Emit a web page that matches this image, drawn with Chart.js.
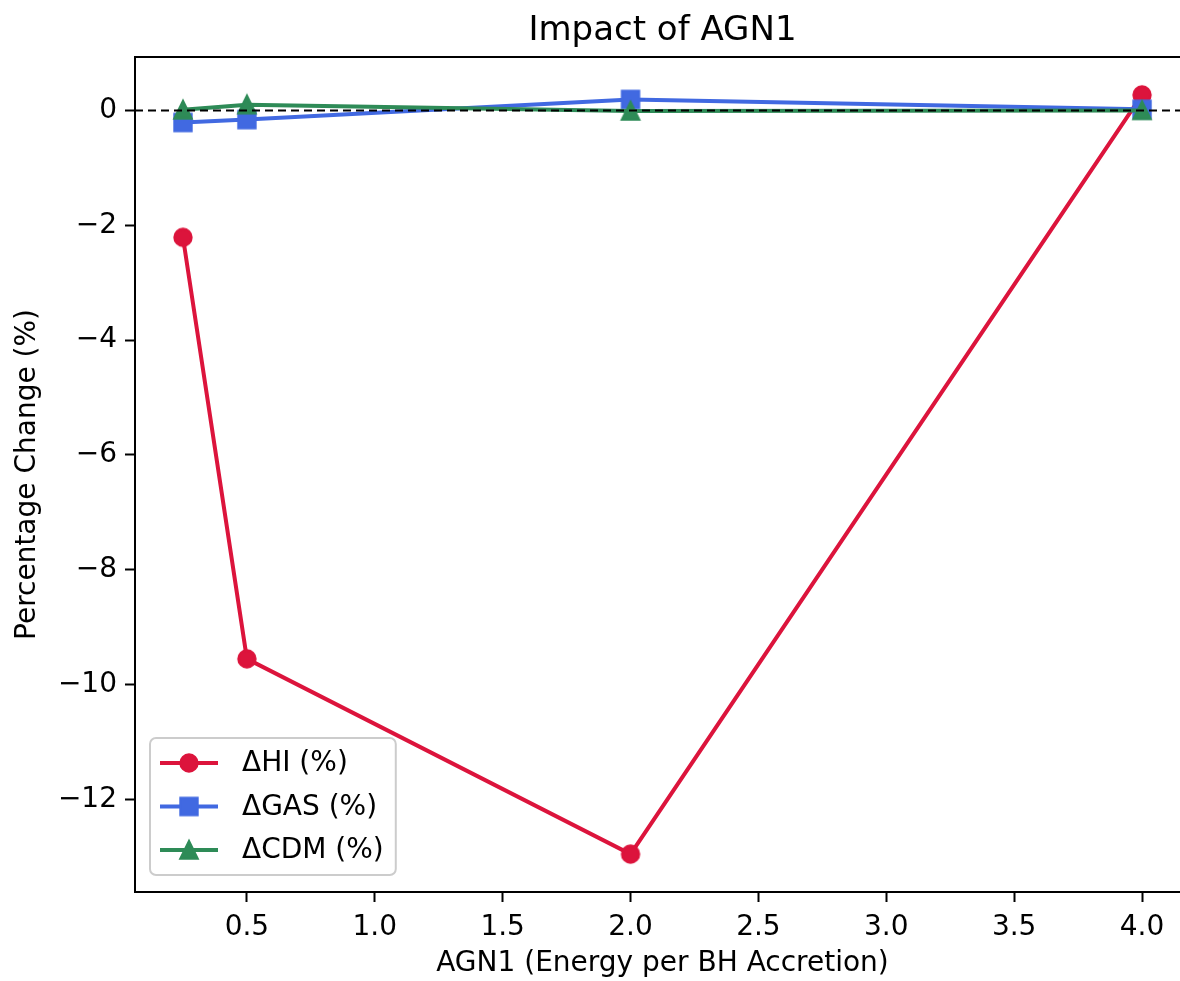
<!DOCTYPE html>
<html>
<head>
<meta charset="utf-8">
<title>Impact of AGN1</title>
<script src="https://cdn.jsdelivr.net/npm/chart.js@4.4.1/dist/chart.umd.min.js"></script>
<style>
  html, body { margin: 0; padding: 0; background: #fff; overflow: hidden; }
  #wrap { position: relative; width: 1240px; height: 981px; }
</style>
</head>
<body>
<div id="wrap"><canvas id="agnChart"></canvas></div>
<script>
// Valores
const agnValues = [0.25, 0.5, 2.0, 4.0];
const deltaHI = [-2.21, -9.55, -12.95, 0.27];
const deltaGAS = [-0.21, -0.16, 0.19, 0.02];
const deltaCDM = [0.01, 0.10, -0.01, 0.0];

const seriesNames = ['ΔHI (%)', 'ΔGAS (%)', 'ΔCDM (%)'];
const xTicks = [0.5, 1.0, 1.5, 2.0, 2.5, 3.0, 3.5, 4.0];
const yTicks = [-12, -10, -8, -6, -4, -2, 0];
const xLimits = [0.0625, 4.1875];
const yLimits = [-13.61, 0.93];

const FONT = "'DejaVu Sans', 'Liberation Sans', sans-serif";
Chart.defaults.font.family = FONT;
Chart.defaults.color = '#000';

// marcadores estilo matplotlib (centrados en su caja)
function makeMarker(shape, color) {
    const c = document.createElement('canvas');
    c.width = 26; c.height = 26;
    const g = c.getContext('2d');
    g.fillStyle = color;
    g.strokeStyle = color;
    g.lineWidth = 2.4;
    g.beginPath();
    if (shape === 'circle') {
        g.arc(13, 13, 8.5, 0, Math.PI * 2);
    } else if (shape === 'square') {
        g.rect(4.5, 4.5, 17, 17);
    } else {
        g.moveTo(13, 4.2);
        g.lineTo(4.5, 21.5);
        g.lineTo(21.5, 21.5);
        g.closePath();
    }
    g.fill();
    g.stroke();
    return c;
}

const colors = ['#DC143C', '#4169E1', '#2E8B57'];
const markers = [
    makeMarker('circle', colors[0]),
    makeMarker('square', colors[1]),
    makeMarker('triangle', colors[2])
];

function toPoints(ys) {
    return agnValues.map((x, i) => ({x: x, y: ys[i]}));
}

function fmtNum(v, dec) {
    const s = Math.abs(v).toFixed(dec);
    return v < 0 ? '\u2212' + s : s;
}

// línea discontinua en y = 0
const zeroLine = {
    id: 'zeroLine',
    afterDatasetsDraw(chart) {
        const {ctx, chartArea} = chart;
        const y = chart.scales.y.getPixelForValue(0);
        ctx.save();
        ctx.strokeStyle = '#000';
        ctx.lineWidth = 2;
        ctx.setLineDash([8, 5]);
        ctx.beginPath();
        ctx.moveTo(chartArea.left, y);
        ctx.lineTo(chartArea.right, y);
        ctx.stroke();
        ctx.restore();
    }
};

// borde superior
const frame = {
    id: 'frame',
    afterDraw(chart) {
        const {ctx, chartArea} = chart;
        ctx.save();
        ctx.strokeStyle = '#000';
        ctx.lineWidth = 2;
        ctx.beginPath();
        ctx.moveTo(chartArea.left, chartArea.top);
        ctx.lineTo(chartArea.right, chartArea.top);
        ctx.stroke();
        ctx.restore();
    }
};

// leyenda dentro del área, abajo a la izquierda
const insideLegend = {
    id: 'insideLegend',
    afterDraw(chart) {
        const {ctx, chartArea} = chart;
        const ds = chart.data.datasets;
        ctx.save();
        ctx.font = '28px ' + FONT;
        let maxW = 0;
        ds.forEach(d => { maxW = Math.max(maxW, ctx.measureText(d.label).width); });
        const rowH = 43.5;
        const w = 10 + 58 + 24 + maxW + 12;
        const h = 137;
        const x0 = chartArea.left + 15;
        const y0 = chartArea.bottom - 17 - h;

        ctx.beginPath();
        ctx.roundRect(x0, y0, w, h, 6);
        ctx.fillStyle = 'rgba(255,255,255,0.8)';
        ctx.fill();
        ctx.strokeStyle = '#cccccc';
        ctx.lineWidth = 2;
        ctx.stroke();

        ds.forEach((d, i) => {
            const cy = y0 + 25 + i * rowH;
            ctx.strokeStyle = d.borderColor;
            ctx.lineWidth = 4;
            ctx.beginPath();
            ctx.moveTo(x0 + 10, cy);
            ctx.lineTo(x0 + 68, cy);
            ctx.stroke();
            const m = d.pointStyle;
            ctx.drawImage(m, x0 + 39 - m.width / 2, cy - m.height / 2);
            ctx.fillStyle = '#000';
            ctx.textBaseline = 'middle';
            ctx.textAlign = 'left';
            ctx.fillText(d.label, x0 + 92, cy + 1);
        });
        ctx.restore();
    }
};

const ctx = document.getElementById('agnChart').getContext('2d');
const agnChart = new Chart(ctx, {
    type: 'line',
    data: {
        datasets: [
            { label: seriesNames[0], data: toPoints(deltaHI), borderColor: colors[0], backgroundColor: colors[0], pointStyle: markers[0], order: 3 },
            { label: seriesNames[1], data: toPoints(deltaGAS), borderColor: colors[1], backgroundColor: colors[1], pointStyle: markers[1], order: 2 },
            { label: seriesNames[2], data: toPoints(deltaCDM), borderColor: colors[2], backgroundColor: colors[2], pointStyle: markers[2], order: 1 }
        ]
    },
    options: {
        responsive: true,
        maintainAspectRatio: false,
        animation: false,
        elements: {
            line: { borderWidth: 4, tension: 0, fill: false },
            point: { radius: 9, hoverRadius: 9 }
        },
        layout: { padding: { left: 0, right: 50, top: 0, bottom: 0 } },
        plugins: {
            legend: { display: false },
            tooltip: { enabled: false },
            title: {
                display: true,
                text: 'Impact of AGN1',
                fullSize: false,
                color: '#000',
                font: { size: 34, weight: 'normal', family: FONT },
                padding: { top: 11, bottom: 5.2 }
            }
        },
        scales: {
            x: {
                type: 'linear',
                min: xLimits[0],
                max: xLimits[1],
                afterBuildTicks: (scale) => { scale.ticks = xTicks.map(v => ({value: v})); },
                afterFit: (scale) => { scale.height = 89; },
                grid: { display: true, drawOnChartArea: false, drawTicks: true, tickLength: 10, tickWidth: 2, tickColor: '#000' },
                border: { display: true, color: '#000', width: 2 },
                ticks: {
                    autoSkip: false,
                    maxRotation: 0,
                    padding: 9,
                    font: { size: 28 },
                    callback: (v) => fmtNum(v, 1)
                },
                title: {
                    display: true,
                    text: 'AGN1 (Energy per BH Accretion)',
                    font: { size: 28 },
                    padding: { top: 0, bottom: 0 }
                }
            },
            y: {
                type: 'linear',
                min: yLimits[0],
                max: yLimits[1],
                afterBuildTicks: (scale) => { scale.ticks = yTicks.map(v => ({value: v})); },
                afterFit: (scale) => { scale.width = 135; },
                grid: { display: true, drawOnChartArea: false, drawTicks: true, tickLength: 10, tickWidth: 2, tickColor: '#000' },
                border: { display: true, color: '#000', width: 2 },
                ticks: {
                    autoSkip: false,
                    padding: 8,
                    font: { size: 28 },
                    callback: (v) => fmtNum(v, 0)
                },
                title: {
                    display: true,
                    text: 'Percentage Change (%)',
                    font: { size: 28 },
                    padding: { top: 11, bottom: 0 }
                }
            }
        }
    },
    plugins: [zeroLine, frame, insideLegend]
});
</script>
</body>
</html>
